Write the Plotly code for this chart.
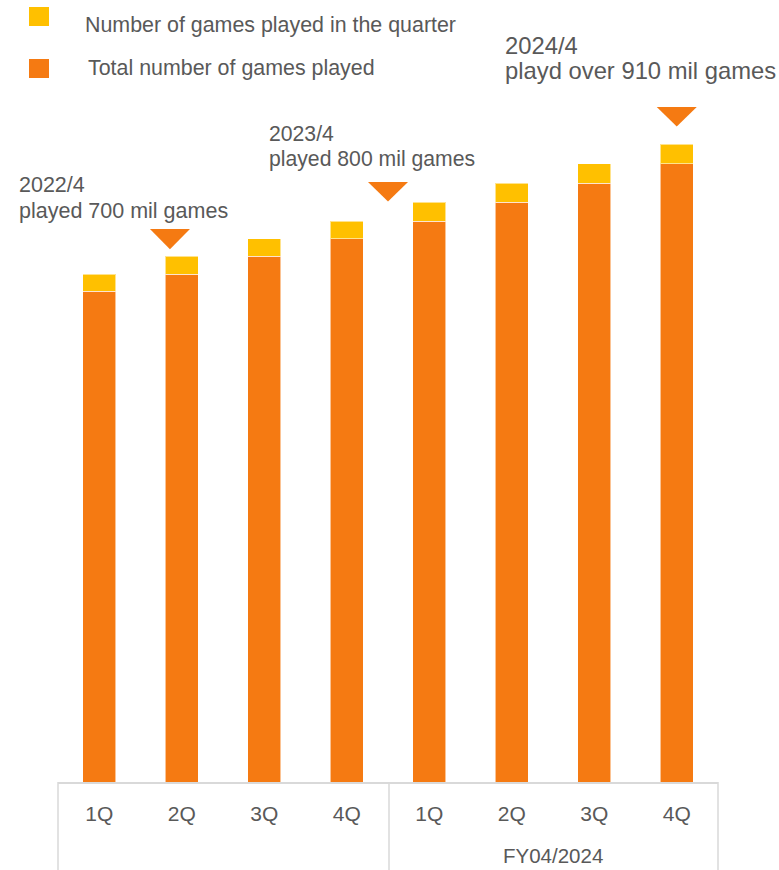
import plotly.graph_objects as go

# Quarterly game counts (million games)
quarters = ["1Q", "2Q", "3Q", "4Q", "1Q", "2Q", "3Q", "4Q"]
fiscal_year_label = "FY04/2024"
games_before_quarter = [700, 724, 750, 775, 800, 827, 854, 882]   # cumulative at start of quarter
games_in_quarter = [24, 26, 25, 25, 27, 27, 28, 28]

legend_labels = ["Number of games played in the quarter", "Total number of games played"]
callout_titles = ["2022/4", "2023/4", "2024/4"]
callout_texts = ["played 700 mil games", "played 800 mil games", "playd over 910 mil games"]

YELLOW = "#FFC000"
ORANGE = "#F57A12"
TEXT = "#595959"
GRID = "#D9D9D9"
FONT = "Liberation Sans, Arial, sans-serif"

W, H = 779, 870
L, R, T, B = 58, 61, 81, 88
PW, PH = W - L - R, H - T - B


def px(xp):
    return (xp - L) / PW


def py(yp):
    return (H - B - yp) / PH


xs = list(range(len(quarters)))

fig = go.Figure()
fig.add_trace(go.Bar(
    x=xs, y=games_before_quarter, width=0.4, name=legend_labels[1],
    marker=dict(color=ORANGE, line=dict(color="rgba(255,255,255,0.55)", width=1)),
    showlegend=False, hoverinfo="skip",
))
fig.add_trace(go.Bar(
    x=xs, y=games_in_quarter, width=0.4, name=legend_labels[0],
    marker=dict(color=YELLOW, line=dict(color="rgba(255,255,255,0.55)", width=1)),
    showlegend=False, hoverinfo="skip",
))

shapes = []
# downward pointers above the milestone bars (center x, top value, tip value)
for xc, ytop, ytip in [(0.857, 789, 760), (3.5, 856, 828), (7.0, 963, 935)]:
    hw = 0.2424
    shapes.append(dict(
        type="path", xref="x", yref="y",
        path=f"M {xc - hw},{ytop} L {xc + hw},{ytop} L {xc},{ytip} Z",
        fillcolor=ORANGE, line=dict(width=0),
    ))

# category box under the axis
for xp in (58, 389, 718):
    shapes.append(dict(type="line", xref="paper", yref="paper",
                       x0=px(xp), x1=px(xp), y0=0, y1=py(H),
                       line=dict(color=GRID, width=1.5)))

# legend swatches
for (y0, y1), col in zip([(7, 26), (59, 78)], [YELLOW, ORANGE]):
    shapes.append(dict(type="rect", xref="paper", yref="paper",
                       x0=px(29), x1=px(49), y0=py(y1), y1=py(y0),
                       fillcolor=col, line=dict(width=0)))

annotations = []
for text, xl, yc in zip(legend_labels, [83, 86], [25, 68]):
    annotations.append(dict(text=text, xref="paper", yref="paper", x=px(xl), y=py(yc),
                            xanchor="left", yanchor="middle", showarrow=False,
                            font=dict(family=FONT, size=21.4, color=TEXT)))

for title, text, xl, yc, fs in zip(callout_titles, callout_texts,
                                   [17, 267, 503], [185, 133, 45], [21.5, 21.2, 23.8]):
    annotations.append(dict(text=title, xref="paper", yref="paper", x=px(xl), y=py(yc),
                            xanchor="left", yanchor="middle", showarrow=False,
                            font=dict(family=FONT, size=fs, color=TEXT)))
    annotations.append(dict(text=text, xref="paper", yref="paper", x=px(xl), y=py(yc + 26),
                            xanchor="left", yanchor="middle", showarrow=False,
                            font=dict(family=FONT, size=fs, color=TEXT)))

annotations.append(dict(text=fiscal_year_label, xref="x", yref="paper", x=5.5, y=py(856),
                        xanchor="center", yanchor="middle", showarrow=False,
                        font=dict(family=FONT, size=20.5, color=TEXT)))

fig.update_layout(
    width=W, height=H,
    margin=dict(l=L, r=R, t=T, b=B, pad=0),
    barmode="stack", bargap=0.6,
    paper_bgcolor="white", plot_bgcolor="white",
    font=dict(family=FONT, color=TEXT),
    shapes=shapes, annotations=annotations,
    xaxis=dict(range=[-0.5, 7.5], tickmode="array", tickvals=xs, ticktext=quarters,
               showgrid=False, zeroline=False, showline=True, linecolor=GRID, linewidth=1.5,
               ticks="", ticklabelstandoff=12,
               tickfont=dict(family=FONT, size=21, color=TEXT), fixedrange=True),
    yaxis=dict(range=[0, 1000], visible=False, fixedrange=True),
)

fig.write_html("out.html", config={"displayModeBar": False})
